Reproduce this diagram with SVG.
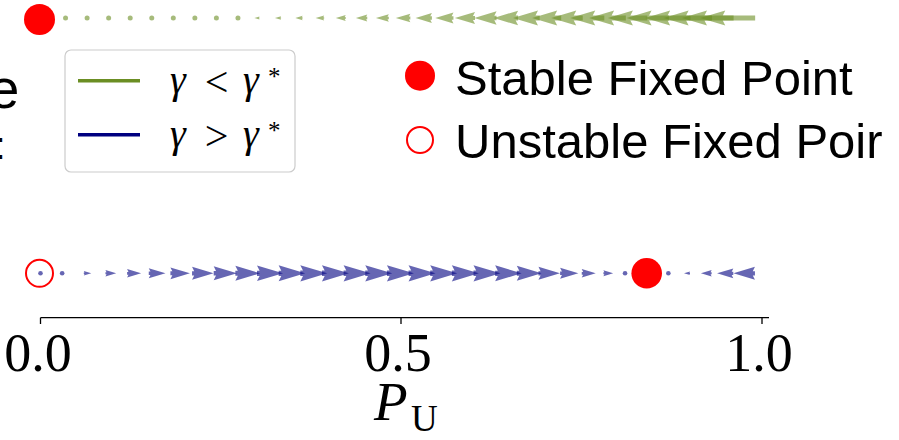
<svg xmlns="http://www.w3.org/2000/svg" xmlns:xlink="http://www.w3.org/1999/xlink" width="899" height="440" viewBox="0 0 899 440">
<style>
.g{fill:#6b8e23;fill-opacity:.6}
.b{fill:#000080;fill-opacity:.6}
.sans{font-family:"Liberation Sans",Arial,sans-serif;fill:#000}
.ser{font-family:"Liberation Serif","Times New Roman",serif;fill:#000}
.it{font-style:italic}
.ax{stroke:#000;stroke-width:1.3;fill:none}
</style>
<defs>
<polygon id="a" points="0,-2.5 2.5,-2.5 0,-7.5 25,0 0,7.5 2.5,2.5 0,2.5"/>
</defs>
<rect width="899" height="440" fill="#fff"/>

<g id="clipped-text">
<text class="sans" x="-11.3" y="108" font-size="55">e</text>
<text class="sans" x="-5" y="159" font-size="38">:</text>
</g>

<g id="top-flow">
<circle class="g" cx="65.55" cy="18" r="2.5"/>
<circle class="g" cx="87.1" cy="18" r="2.5"/>
<circle class="g" cx="108.65" cy="18" r="2.5"/>
<circle class="g" cx="130.2" cy="18" r="2.5"/>
<circle class="g" cx="151.75" cy="18" r="2.5"/>
<circle class="g" cx="173.3" cy="18" r="2.5"/>
<circle class="g" cx="194.85" cy="18" r="2.5"/>
<circle class="g" cx="216.4" cy="18" r="2.5"/>
<circle class="g" cx="237.95" cy="18" r="2.5"/>
<use class="g" href="#a" transform="translate(259.5,18) scale(-0.2016,0.2016)"/>
<use class="g" href="#a" transform="translate(281.05,18) scale(-0.244,0.244)"/>
<use class="g" href="#a" transform="translate(302.6,18) scale(-0.2904,0.2904)"/>
<use class="g" href="#a" transform="translate(324.15,18) scale(-0.3408,0.3408)"/>
<use class="g" href="#a" transform="translate(345.7,18) scale(-0.3952,0.3952)"/>
<use class="g" href="#a" transform="translate(367.25,18) scale(-0.4536,0.4536)"/>
<use class="g" href="#a" transform="translate(388.8,18) scale(-0.516,0.516)"/>
<use class="g" href="#a" transform="translate(410.35,18) scale(-0.5828,0.5828)"/>
<use class="g" href="#a" transform="translate(431.9,18) scale(-0.6532,0.6532)"/>
<use class="g" href="#a" transform="translate(453.45,18) scale(-0.7276,0.7276)"/>
<use class="g" href="#a" transform="translate(475,18) scale(-0.8064,0.8064)"/>
<use class="g" href="#a" transform="translate(496.55,18) scale(-0.8892,0.8892)"/>
<use class="g" href="#a" transform="translate(518.1,18) scale(-0.9756,0.9756)"/>
<polygon class="g" points="539.65,15.5 535.49,15.5 537.99,10.5 512.99,18 537.99,25.5 535.49,20.5 539.65,20.5"/>
<polygon class="g" points="561.2,15.5 554.67,15.5 557.17,10.5 532.17,18 557.17,25.5 554.67,20.5 561.2,20.5"/>
<polygon class="g" points="582.75,15.5 573.75,15.5 576.25,10.5 551.25,18 576.25,25.5 573.75,20.5 582.75,20.5"/>
<polygon class="g" points="604.3,15.5 592.73,15.5 595.23,10.5 570.23,18 595.23,25.5 592.73,20.5 604.3,20.5"/>
<polygon class="g" points="625.85,15.5 611.61,15.5 614.11,10.5 589.11,18 614.11,25.5 611.61,20.5 625.85,20.5"/>
<polygon class="g" points="647.4,15.5 630.39,15.5 632.89,10.5 607.89,18 632.89,25.5 630.39,20.5 647.4,20.5"/>
<polygon class="g" points="668.95,15.5 649.06,15.5 651.56,10.5 626.56,18 651.56,25.5 649.06,20.5 668.95,20.5"/>
<polygon class="g" points="690.5,15.5 667.64,15.5 670.14,10.5 645.14,18 670.14,25.5 667.64,20.5 690.5,20.5"/>
<polygon class="g" points="712.05,15.5 686.12,15.5 688.62,10.5 663.62,18 688.62,25.5 686.12,20.5 712.05,20.5"/>
<polygon class="g" points="733.6,15.5 704.49,15.5 706.99,10.5 681.99,18 706.99,25.5 704.49,20.5 733.6,20.5"/>
<polygon class="g" points="755.15,15.5 722.76,15.5 725.26,10.5 700.26,18 725.26,25.5 722.76,20.5 755.15,20.5"/>
<circle id="top-stable" cx="39.5" cy="19.5" r="15.5" fill="#ff0000"/>
</g>

<g id="bottom-flow">
<circle class="b" cx="40.5" cy="273.3" r="2.3"/>
<circle class="b" cx="62.15" cy="273.3" r="2.3"/>
<use class="b" href="#a" transform="translate(83.8,273.3) scale(0.3)"/>
<use class="b" href="#a" transform="translate(105.45,273.3) scale(0.43)"/>
<use class="b" href="#a" transform="translate(127.1,273.3) scale(0.56)"/>
<use class="b" href="#a" transform="translate(148.75,273.3) scale(0.67)"/>
<use class="b" href="#a" transform="translate(170.4,273.3) scale(0.78)"/>
<use class="b" href="#a" transform="translate(192.05,273.3) scale(0.86)"/>
<use class="b" href="#a" transform="translate(213.7,273.3) scale(0.93)"/>
<use class="b" href="#a" transform="translate(235.35,273.3) scale(0.99)"/>
<use class="b" href="#a" transform="translate(257,273.3) scale(1.04)"/>
<use class="b" href="#a" transform="translate(278.65,273.3) scale(1.06)"/>
<use class="b" href="#a" transform="translate(300.3,273.3) scale(1.08)"/>
<use class="b" href="#a" transform="translate(321.95,273.3) scale(1.08)"/>
<use class="b" href="#a" transform="translate(343.6,273.3) scale(1.08)"/>
<use class="b" href="#a" transform="translate(365.25,273.3) scale(1.08)"/>
<use class="b" href="#a" transform="translate(386.9,273.3) scale(1.08)"/>
<use class="b" href="#a" transform="translate(408.55,273.3) scale(1.08)"/>
<use class="b" href="#a" transform="translate(430.2,273.3) scale(1.08)"/>
<use class="b" href="#a" transform="translate(451.85,273.3) scale(1.08)"/>
<use class="b" href="#a" transform="translate(473.5,273.3) scale(1.08)"/>
<use class="b" href="#a" transform="translate(495.15,273.3) scale(1.06)"/>
<use class="b" href="#a" transform="translate(516.8,273.3) scale(0.99)"/>
<use class="b" href="#a" transform="translate(538.45,273.3) scale(0.86)"/>
<use class="b" href="#a" transform="translate(560.1,273.3) scale(0.73)"/>
<use class="b" href="#a" transform="translate(581.75,273.3) scale(0.56)"/>
<use class="b" href="#a" transform="translate(603.4,273.3) scale(0.39)"/>
<circle class="b" cx="625.05" cy="273.3" r="2.3"/>
<circle class="b" cx="646.7" cy="273.3" r="2.3"/>
<circle class="b" cx="668.35" cy="273.3" r="2.3"/>
<use class="b" href="#a" transform="translate(690,273.3) scale(-0.24,0.24)"/>
<use class="b" href="#a" transform="translate(711.65,273.3) scale(-0.43,0.43)"/>
<use class="b" href="#a" transform="translate(733.3,273.3) scale(-0.65,0.65)"/>
<use class="b" href="#a" transform="translate(754.95,273.3) scale(-0.86,0.86)"/>
<circle id="bottom-unstable" cx="39.5" cy="273.3" r="13.5" fill="none" stroke="#ff0000" stroke-width="2"/>
<circle id="bottom-stable" cx="646.7" cy="273.3" r="15.3" fill="#ff0000"/>
</g>

<g id="axis">
<line class="ax" x1="40.5" y1="317.7" x2="769" y2="317.7"/>
<line class="ax" x1="40.5" y1="317.7" x2="40.5" y2="324"/>
<line class="ax" x1="401" y1="317.7" x2="401" y2="324"/>
<line class="ax" x1="762" y1="317.7" x2="762" y2="324"/>
<text class="ser" x="38" y="371" font-size="54" text-anchor="middle">0.0</text>
<text class="ser" x="398" y="371" font-size="54" text-anchor="middle">0.5</text>
<text class="ser" x="759" y="371" font-size="54" text-anchor="middle">1.0</text>
<text class="ser it" x="374" y="420" font-size="55">P</text>
<text class="ser" x="411" y="431" font-size="37">U</text>
</g>

<g id="legend-gamma">
<rect x="65" y="50" width="230" height="122" rx="6" fill="#fff" stroke="#cccccc" stroke-width="1.2"/>
<line x1="78" y1="80.7" x2="140" y2="80.7" stroke="#6b8e23" stroke-width="3.5"/>
<line x1="78" y1="134.7" x2="140" y2="134.7" stroke="#000080" stroke-width="3.5"/>
<text class="ser it" x="170" y="93" font-size="40">γ</text>
<text class="ser" x="216.5" y="96" font-size="42" text-anchor="middle">&lt;</text>
<text class="ser it" x="243" y="93" font-size="40">γ</text>
<text class="ser" x="268" y="85" font-size="25">*</text>
<text class="ser it" x="170" y="147" font-size="40">γ</text>
<text class="ser" x="216.5" y="150" font-size="42" text-anchor="middle">&gt;</text>
<text class="ser it" x="243" y="147" font-size="40">γ</text>
<text class="ser" x="268" y="139" font-size="25">*</text>
</g>

<g id="legend-fixed">
<circle cx="420" cy="75.7" r="15" fill="#ff0000"/>
<circle cx="420" cy="140" r="13" fill="none" stroke="#ff0000" stroke-width="2"/>
<text class="sans" x="455" y="95" font-size="49">Stable Fixed Point</text>
<text class="sans" x="455" y="158" font-size="49">Unstable Fixed Poir</text>
</g>
</svg>
